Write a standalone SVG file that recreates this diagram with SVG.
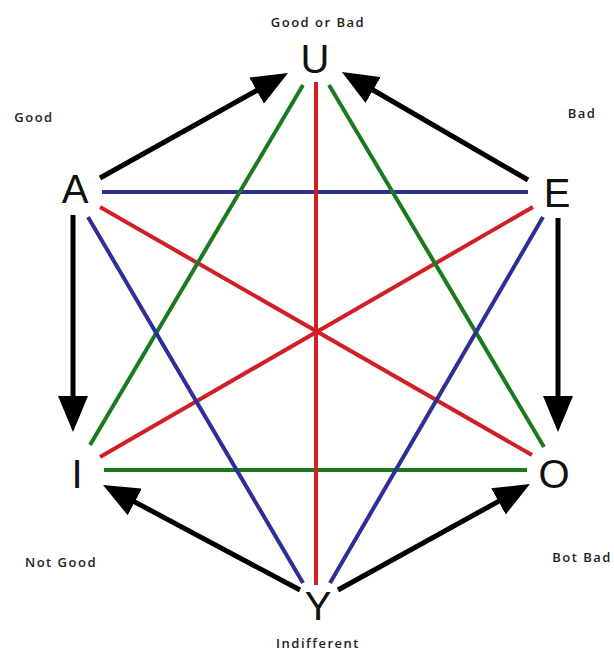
<svg xmlns="http://www.w3.org/2000/svg" width="614" height="653" viewBox="0 0 614 653">
<style>
.big{font-family:"Liberation Sans",Arial,sans-serif;font-size:40px;fill:#111;text-anchor:middle}
.lbl{font-family:"Open Sans","Liberation Sans",sans-serif;font-size:13px;font-weight:600;letter-spacing:1.5px;fill:#222;text-anchor:middle}
.r{stroke:#d21f26;stroke-width:4;fill:none}
.g{stroke:#1b7a1f;stroke-width:4;fill:none}
.b{stroke:#2b2f96;stroke-width:4;fill:none}
.k{stroke:#000;stroke-width:5;fill:none;marker-end:url(#ah)}
</style>
<defs>
<marker id="ah" markerUnits="userSpaceOnUse" viewBox="0 0 36 30" refX="26" refY="15" markerWidth="36" markerHeight="30" orient="auto">
<path d="M0,0 L36,15 L0,30 z" fill="#000"/>
</marker>
</defs>
<rect width="614" height="653" fill="#fff"/>
<g id="connectors">
<line class="b" x1="102" y1="192" x2="528" y2="192"/>
<line class="g" x1="104" y1="470" x2="527" y2="470"/>
<line class="r" x1="316" y1="82" x2="316" y2="585"/>
<line class="r" x1="100" y1="207" x2="532" y2="455"/>
<line class="r" x1="533" y1="207" x2="100" y2="457"/>
<line class="g" x1="303" y1="85" x2="90" y2="445"/>
<line class="g" x1="329" y1="85" x2="544" y2="447"/>
<line class="b" x1="88" y1="217" x2="303" y2="583"/>
<line class="b" x1="543" y1="217" x2="330" y2="583"/>
<line class="k" x1="100" y1="178" x2="279.3" y2="77.9"/>
<line class="k" x1="528" y1="180" x2="350.6" y2="77"/>
<line class="k" x1="73" y1="215" x2="73" y2="422"/>
<line class="k" x1="558" y1="218" x2="558" y2="422"/>
<line class="k" x1="300" y1="590" x2="111.8" y2="489.7"/>
<line class="k" x1="338" y1="590" x2="521.2" y2="488.8"/>
</g>
<g id="U"><text class="big" x="315" y="73">U</text><text class="lbl" x="318" y="27">Good or Bad</text></g>
<g id="A"><text class="big" x="75" y="203">A</text><text class="lbl" x="34" y="122">Good</text></g>
<g id="E"><text class="big" x="557" y="207">E</text><text class="lbl" x="582" y="118">Bad</text></g>
<g id="I"><text class="big" x="77" y="488">I</text><text class="lbl" x="61" y="567">Not Good</text></g>
<g id="O"><text class="big" x="554" y="488">O</text><text class="lbl" x="582" y="562">Bot Bad</text></g>
<g id="Y"><text class="big" x="318" y="620">Y</text><text class="lbl" x="318" y="648">Indifferent</text></g>
</svg>
